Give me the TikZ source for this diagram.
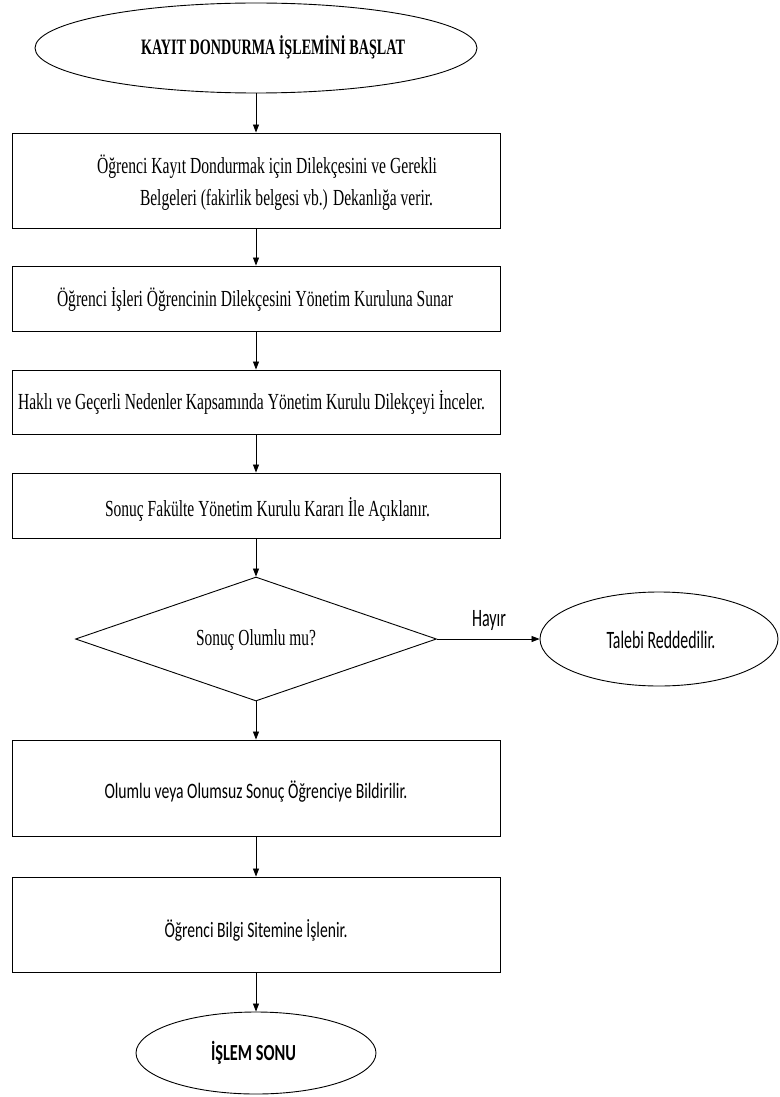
\documentclass[tikz,border=0pt]{standalone}
\usepackage{fontspec}
\usepackage{graphicx}
\setmainfont{Liberation Serif}
\newfontfamily\carlito{Carlito}
\usetikzlibrary{shapes.geometric,arrows.meta}
\newsavebox\fitbox
\newcommand\fitto[2]{\sbox\fitbox{#2}\pgfmathsetmacro\fitscale{#1/\the\wd\fitbox}\scalebox{\fitscale}[1]{\usebox\fitbox}}
\begin{document}
\begin{tikzpicture}[x=1pt,y=-1pt,
  every node/.style={inner sep=0pt},
  box/.style={draw,line width=0.9pt,minimum width=488pt},
  oval/.style={draw,ellipse,line width=0.9pt},
  dia/.style={draw,diamond,line width=0.9pt},
  lbl/.style={inner sep=0pt,font=\fontsize{23}{27}\selectfont},
  blbl/.style={inner sep=0pt,font=\bfseries\fontsize{22}{26}\selectfont},
  clbl/.style={inner sep=0pt,font=\carlito\fontsize{22}{26}\selectfont},
  cbig/.style={inner sep=0pt,font=\carlito\fontsize{25}{29}\selectfont},
  cbold/.style={inner sep=0pt,font=\carlito\bfseries\fontsize{23}{27}\selectfont},
  conn/.style={line width=0.8pt,-{Triangle[length=8pt,width=6pt]}}
]
\useasboundingbox (0,0) rectangle (779,1097);
% shapes
\node[oval,minimum width=442pt,minimum height=90pt] (start) at (256,48) {};
\node[box,minimum height=95pt] (b1) at (256,180.5) {};
\node[box,minimum height=65pt] (b2) at (256,298.5) {};
\node[box,minimum height=64pt] (b3) at (256,402) {};
\node[box,minimum height=65pt] (b4) at (256,505.5) {};
\node[dia,minimum width=361pt,minimum height=124pt] (dec) at (256,639) {};
\node[oval,minimum width=238pt,minimum height=94pt] (rej) at (659,639) {};
\node[box,minimum height=96pt] (b5) at (256,788) {};
\node[box,minimum height=95pt] (b6) at (256,924.5) {};
\node[oval,minimum width=240pt,minimum height=82pt] (stop) at (256,1053) {};
% texts
\node[blbl] (tstart) at (273,47) {\fitto{264pt}{KAYIT DONDURMA İŞLEMİNİ BAŞLAT}};
\node[lbl] (t1a) at (267,167) {\fitto{340pt}{Öğrenci Kayıt Dondurmak için Dilekçesini ve Gerekli}};
\node[lbl] (t1b) at (286.5,200) {\fitto{293pt}{Belgeleri (fakirlik belgesi vb.) Dekanlığa verir.}};
\node[lbl] (t2) at (255,299) {\fitto{396pt}{Öğrenci İşleri Öğrencinin Dilekçesini Yönetim Kuruluna Sunar}};
\node[lbl] (t3) at (251.5,402) {\fitto{467pt}{Haklı ve Geçerli Nedenler Kapsamında Yönetim Kurulu Dilekçeyi İnceler.}};
\node[lbl] (t4) at (267.5,509) {\fitto{325pt}{Sonuç Fakülte Yönetim Kurulu Kararı İle Açıklanır.}};
\node[lbl] (tdec) at (256,640) {\fitto{120pt}{Sonuç Olumlu mu?}};
\node[cbig] (thay) at (489,620) {\fitto{34pt}{Hayır}};
\node[cbig] (trej) at (661,640) {\fitto{109pt}{Talebi Reddedilir.}};
\node[clbl] (t5) at (256,792) {\fitto{303pt}{Olumlu veya Olumsuz Sonuç Öğrenciye Bildirilir.}};
\node[clbl] (t6) at (256,930) {\fitto{183pt}{Öğrenci Bilgi Sitemine İşlenir.}};
\node[cbold] (tstop) at (253.5,1053) {\fitto{85pt}{İŞLEM SONU}};
% connectors
\draw[conn] (start.south) -- (b1.north);
\draw[conn] (b1.south) -- (b2.north);
\draw[conn] (b2.south) -- (b3.north);
\draw[conn] (b3.south) -- (b4.north);
\draw[conn] (b4.south) -- (dec.north);
\draw[conn] (dec.east) -- (rej.west);
\draw[conn] (dec.south) -- (b5.north);
\draw[conn] (b5.south) -- (b6.north);
\draw[conn] (b6.south) -- (stop.north);
\end{tikzpicture}
\end{document}
